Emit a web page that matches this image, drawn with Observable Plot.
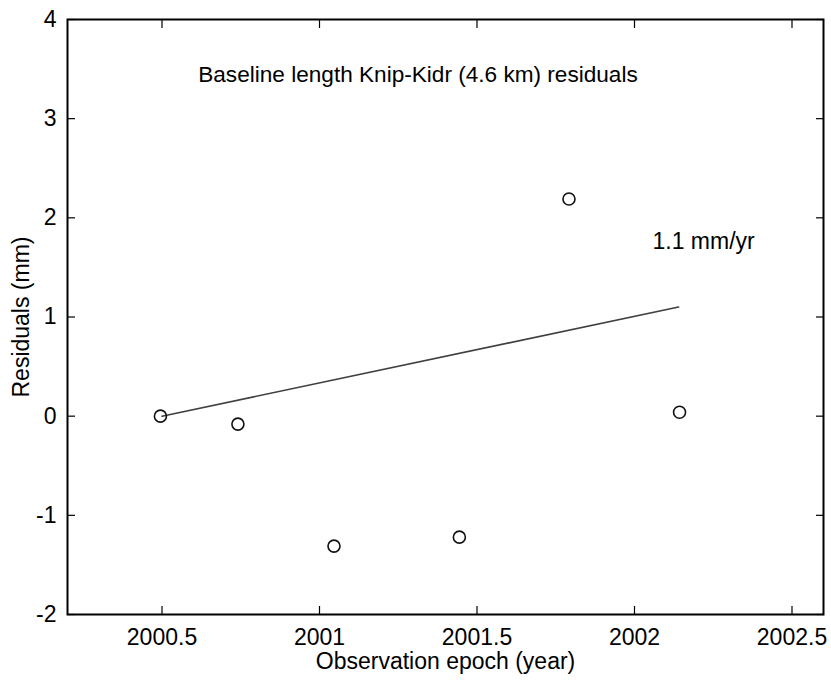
<!DOCTYPE html>
<html>
<head>
<meta charset="utf-8">
<script src="https://cdn.jsdelivr.net/npm/d3@7"></script>
<script src="https://cdn.jsdelivr.net/npm/@observablehq/plot@0.6"></script>
<style>
  html, body { margin: 0; padding: 0; background: #fff; }
  #chart svg { display: block; }
</style>
</head>
<body>
<div id="chart"></div>
<script>
// Observed residuals
const epochs = [2000.495, 2000.741, 2001.046, 2001.444, 2001.792, 2002.143];
const residuals = [0.0, -0.08, -1.31, -1.22, 2.19, 0.04];
// Linear trend (1.1 mm/yr)
const trendEpochs = [2000.5, 2002.14];
const trendValues = [0.0, 1.1];
// Tick labels
const xTicks = [2000.5, 2001, 2001.5, 2002, 2002.5];
const yTicks = [-2, -1, 0, 1, 2, 3, 4];
// Texts
const titleText = "Baseline length Knip-Kidr (4.6 km) residuals";
const rateText = "1.1 mm/yr";
const xLabel = "Observation epoch (year)";
const yLabel = "Residuals (mm)";

const points = epochs.map((e, i) => ({epoch: e, residual: residuals[i]}));
const trend = trendEpochs.map((e, i) => ({epoch: e, residual: trendValues[i]}));

const FS = 23;
const blank = () => "";

const chart = Plot.plot({
  width: 831,
  height: 682,
  marginLeft: 67,
  marginRight: 8,
  marginTop: 19,
  marginBottom: 68,
  style: {fontFamily: "'Liberation Sans', Arial, Helvetica, sans-serif", fontSize: FS + "px", color: "#000", background: "#fff"},
  x: {domain: [2000.2, 2002.6]},
  y: {domain: [-2, 4]},
  marks: [
    // inward ticks on all four sides
    Plot.axisX(xTicks, {anchor: "bottom", tickSize: -8, tickFormat: blank, label: null, strokeWidth: 1.2}),
    Plot.axisX(xTicks, {anchor: "top", tickSize: -8, tickFormat: blank, label: null, strokeWidth: 1.2}),
    Plot.axisY(yTicks, {anchor: "left", tickSize: -8, tickFormat: blank, label: null, strokeWidth: 1.2}),
    Plot.axisY(yTicks, {anchor: "right", tickSize: -8, tickFormat: blank, label: null, strokeWidth: 1.2}),
    // tick labels
    Plot.axisX(xTicks, {anchor: "bottom", tickSize: 0, tickPadding: 14, label: null, fontSize: FS, tickFormat: d => String(d)}),
    Plot.axisY(yTicks, {anchor: "left", tickSize: 0, tickPadding: 11, label: null, fontSize: FS, tickFormat: d => String(d)}),
    Plot.frame({stroke: "#000", strokeWidth: 2}),
    Plot.line(trend, {x: "epoch", y: "residual", stroke: "#404040", strokeWidth: 1.6}),
    Plot.dot(points, {x: "epoch", y: "residual", r: 6, stroke: "#111", strokeWidth: 1.6, fill: "none"}),
    Plot.text([titleText], {x: 2000.615, y: 3.44, text: d => d, textAnchor: "start", fontSize: 22.6, fill: "#000"}),
    Plot.text([rateText], {x: 2002.057, y: 1.76, text: d => d, textAnchor: "start", fontSize: FS, fill: "#000"}),
    Plot.text([xLabel], {x: 2001.4, frameAnchor: "bottom", text: d => d, dy: 54, fontSize: FS, fill: "#000"}),
    Plot.text([yLabel], {x: 2000.2, y: 1, text: d => d, dx: -46, rotate: -90, textAnchor: "middle", fontSize: FS, fill: "#000"})
  ]
});
document.getElementById("chart").appendChild(chart);
</script>
</body>
</html>
